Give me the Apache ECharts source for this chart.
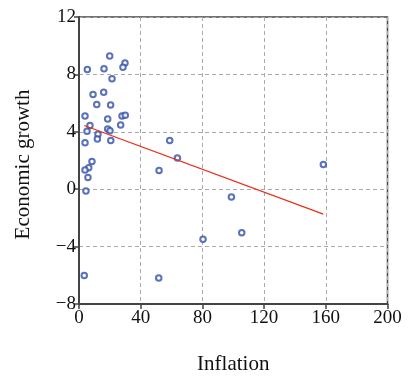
<!DOCTYPE html>
<html><head><meta charset="utf-8">
<script src="https://cdn.jsdelivr.net/npm/echarts@6/dist/echarts.min.js"></script>
<style>html,body{margin:0;padding:0;background:#fff}#c{width:408px;height:380px}</style>
</head><body><div id="c"></div>
<script>
const inflation = [19.9,29.8,28.5,5.4,16.2,21.4,9.1,16.0,11.5,20.5,3.9,18.6,27.9,30.0,27.0,7.1,18.6,20.1,5.2,12.3,11.9,20.6,58.8,3.9,63.8,8.4,6.3,3.9,5.8,51.9,4.5,3.4,51.7,158.4,98.8,105.5,80.4];
const growth    = [9.29,8.8,8.5,8.35,8.4,7.7,6.6,6.75,5.9,5.86,5.1,4.9,5.1,5.15,4.48,4.44,4.2,4.07,4.03,3.83,3.5,3.39,3.39,3.24,2.17,1.93,1.49,1.34,0.81,1.31,-0.13,-6.01,-6.19,1.72,-0.54,-3.03,-3.48];
const fitX = [3.4, 158.4];
const fitY = [4.44, -1.74];
const xTicks = [0,40,80,120,160,200];
const yTicks = [-8,-4,0,4,8,12];

const pts = inflation.map((v,i)=>[v,growth[i]]);
const fit = fitX.map((v,i)=>[v,fitY[i]]);
const font = 'Liberation Serif';
const chart = echarts.init(document.getElementById('c'));
chart.setOption({
  animation:false,
  backgroundColor:'#fff',
  grid:{left:79,right:20.5,top:17,bottom:68.3,show:true,borderColor:'#444',borderWidth:1.5,containLabel:false},
  xAxis:{type:'value',min:0,max:200,interval:40,
    name:'Inflation',nameLocation:'middle',nameGap:50,
    nameTextStyle:{fontFamily:font,fontSize:21,color:'#111'},
    axisLine:{show:true,onZero:false,lineStyle:{color:'#444',width:2}},
    axisTick:{show:true,length:5,inside:false,lineStyle:{color:'#444',width:1.5}},
    axisLabel:{fontFamily:font,fontSize:19,color:'#111',margin:5,formatter:v=>xTicks.includes(v)?String(v):''},
    splitLine:{show:true,lineStyle:{color:'#aaa',type:[4,3],width:1}}},
  yAxis:{type:'value',min:-8,max:12,interval:4,
    name:'Economic growth',nameLocation:'middle',nameGap:45,
    nameTextStyle:{fontFamily:font,fontSize:21,color:'#111',padding:[0,8,0,0]},
    axisLine:{show:true,onZero:false,lineStyle:{color:'#444',width:2}},
    axisTick:{show:true,length:5,inside:false,lineStyle:{color:'#444',width:1.5}},
    axisLabel:{fontFamily:font,fontSize:19,color:'#111',margin:3,
      formatter:v=>yTicks.includes(v)?String(v).replace('-','\u2212'):''},
    splitLine:{show:true,lineStyle:{color:'#aaa',type:[4,3],width:1}}},
  series:[
    {type:'scatter',data:pts,symbol:'emptyCircle',symbolSize:5.5,
     itemStyle:{color:'#2f4fa8',borderColor:'#2f4fa8',borderWidth:1.2}},
    {type:'line',data:fit,symbol:'none',lineStyle:{color:'#e8301c',width:1.3}}
  ]
});
</script></body></html>
